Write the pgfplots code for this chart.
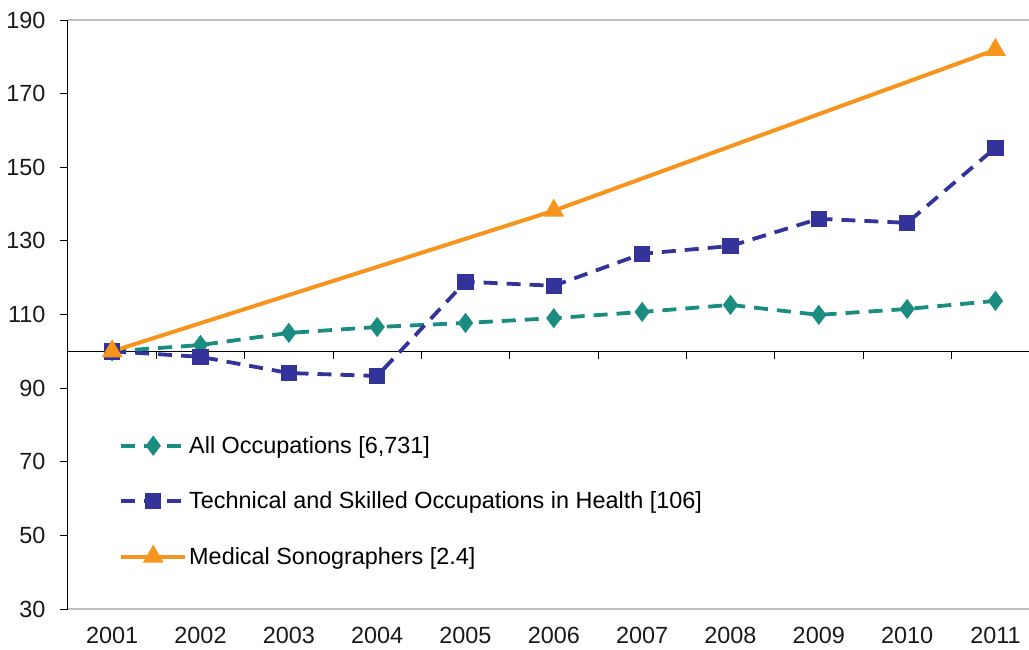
\documentclass[border=0pt]{standalone}
\usepackage{fontspec}
\setmainfont{Liberation Sans}
\usepackage{pgfplots}
\pgfplotsset{compat=1.18}
\definecolor{teal2}{RGB}{26,140,128}
\definecolor{navy2}{RGB}{51,51,153}
\definecolor{orng}{RGB}{247,148,30}
\definecolor{lgray}{RGB}{192,192,192}
\begin{document}
\begin{tikzpicture}
\begin{axis}[
 scale only axis, width=961bp, height=589bp,
 xmin=-0.5, xmax=10.38, ymin=30, ymax=190,
 xtick={0,1,2,3,4,5,6,7,8,9,10},
 xticklabels={2001,2002,2003,2004,2005,2006,2007,2008,2009,2010,2011},
 ytick={30,50,70,90,110,130,150,170,190},
 axis line style={draw=none},
 ytick pos=left, tick align=outside,
 major tick length=8bp,
 ytick style={black, line width=0.8bp},
 xtick style={draw=none},
 ticklabel style={font=\fontsize{23.5}{27}\selectfont, text=black!90},
 yticklabel style={xshift=-11bp},
 xticklabel style={yshift=-7bp},
 /pgf/number format/assume math mode=true,
 clip=false,
 legend style={at={(rel axis cs:0.05,0.30)}, anchor=north west, draw=none, fill=none,
   font=\fontsize{23.5}{27}\selectfont, row sep=33bp, cells={anchor=west}},
 legend image code/.code={\draw[mark repeat=2,mark phase=2] plot coordinates {(0bp,0bp)(32bp,0bp)(64bp,0bp)};},
]
\draw[lgray, line width=2bp] (rel axis cs:0,1) -- (rel axis cs:1,1);
\draw[lgray, line width=2bp] (rel axis cs:0,0) -- (rel axis cs:1,0);
\draw[black, line width=1bp] (rel axis cs:0,0) -- (rel axis cs:0,1);
\draw[black, line width=1bp] (axis cs:-0.5,100) -- (axis cs:10.38,100);
\pgfplotsinvokeforeach{0.5,1.5,2.5,3.5,4.5,5.5,6.5,7.5,8.5,9.5}{
  \draw[black, line width=0.8bp] (axis cs:#1,100) -- ++(0bp,-8bp);
}
\addplot[teal2, line width=3.8bp, dash pattern=on 14bp off 9bp, mark=diamond*, mark size=7bp, mark options={solid}]
 coordinates {(0,100)(1,101.7)(2,105)(3,106.6)(4,107.7)(5,109)(6,110.7)(7,112.6)(8,109.9)(9,111.5)(10,113.7)};
\addplot[navy2, line width=3.8bp, dash pattern=on 14bp off 9bp, mark=square*, mark size=6.3bp, mark options={solid}]
 coordinates {(0,100)(1,98.5)(2,94.1)(3,93.3)(4,118.9)(5,117.8)(6,126.5)(7,128.6)(8,136)(9,134.9)(10,155.3)};
\addplot[orng, line width=4bp, mark=triangle*, mark size=8bp, mark options={solid}]
 coordinates {(0,100)(5,138.2)(10,181.9)};
\legend{{All Occupations [6,731]},{Technical and Skilled Occupations in Health [106]},{Medical Sonographers [2.4]}}
\end{axis}
\pgfresetboundingbox
\path (-68bp,-41bp) rectangle (961bp,609bp);
\end{tikzpicture}
\end{document}
